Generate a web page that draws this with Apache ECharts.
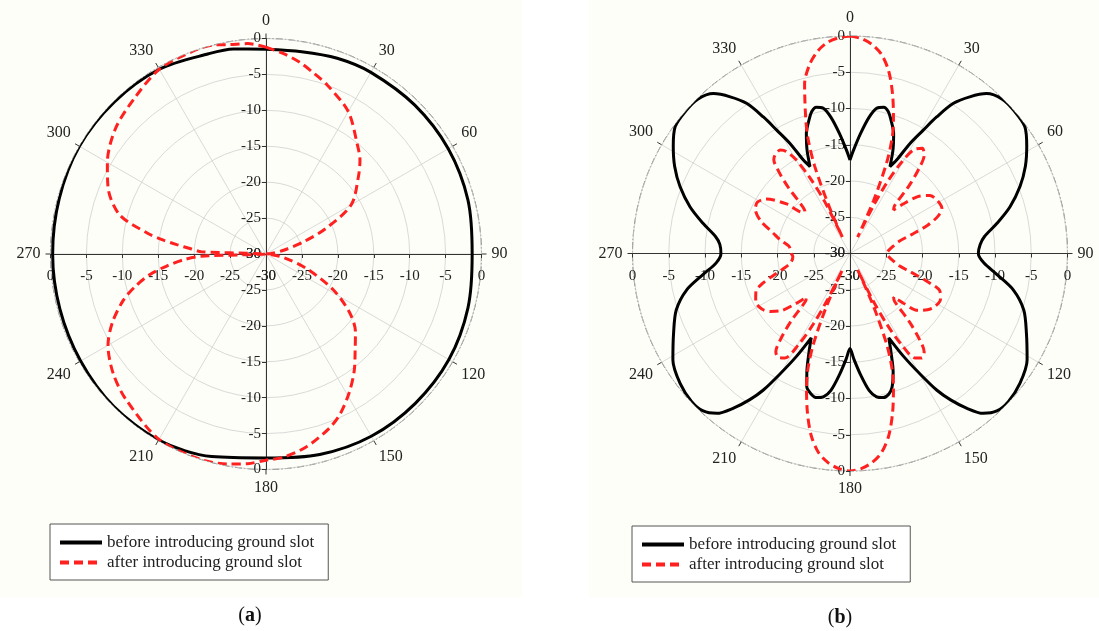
<!DOCTYPE html>
<html><head><meta charset="utf-8">
<script src="https://cdn.jsdelivr.net/npm/echarts@6/dist/echarts.min.js"></script>
<style>html,body{margin:0;padding:0;background:#fff}#c{width:1099px;height:631px}</style>
</head><body><div id="c"></div>
<script>
// ---------- data ----------
const seriesNames = ['before introducing ground slot', 'after introducing ground slot'];
const angleRange = [0, 360];
const angleStep = 30;
const radiusRange = [-30, 0];
const radiusStep = 5;

// (a) before (black)
const aBeforeAngle = [0,10,20,30,45,60,75,90,105,120,135,150,165,180,195,210,225,240,255,270,285,300,315,330,344,351,360];
const aBeforeDb    = [-1.5,-1.4,-1.0,-0.8,-0.7,-0.7,-0.9,-1.3,-0.9,-0.6,-0.6,-0.7,-1.1,-1.6,-0.8,-0.1,0,-0.2,-0.3,-0.3,-0.2,0,-0.1,-0.3,-1.0,-1.1,-1.5];
// (a) after (red)
const aAfterAngle = [0,5,10,15,20,30,40,45,50,60,67,72,78,84,90,96,102,110,118,125,131,137,143,149,155,160,168,175,180,185,190,198,210,224,232,240,246,252,256,260,263,266,268,270,272,274,276,278,280,285,293,300,310,320,330,340,346,350,355,360];
const aAfterDb    = [-1.2,-2.0,-2.9,-4.0,-5.0,-7.1,-10.2,-11.5,-13.2,-16.3,-21.0,-24.5,-27.5,-29.3,-30,-29.3,-27.3,-23.9,-19.4,-15.8,-13.5,-11.8,-9.6,-7.5,-5.5,-4.2,-2.6,-1.6,-1.3,-0.7,-0.3,0,-0.2,-1.9,-3.0,-4.6,-6.6,-9.1,-11.2,-13.6,-16.0,-18.5,-21,-30,-21,-19.5,-17.5,-15.2,-13.2,-8.9,-6.1,-4.5,-2.7,-1.6,-0.3,0,0,-0.4,-0.6,-1.2];

// (b) before (black)
const bBeforeAngle = [0,2,5,8,10.5,13,15,17,20,22.5,24.7,26.5,28.6,30.7,32.4,34.5,37.4,40.5,44.6,49,54,58.8,63.6,68.5,73.7,78.4,82.8,86,90,
  94,98,102.6,108,114.3,121,127.4,133,137,140.2,143,145.5,147.6,150,152.5,155.3,157.5,160,162.5,164.5,167,169.5,172,175,178,180,
  182,185,188,190.5,193,195.5,198,200,202.5,204.7,207.5,210,212.4,214.5,217,219.8,223,227,232.6,239,245.7,252,257.4,262,266,270,
  274,277.2,281.6,286.3,291.5,296.4,301.2,306,311,315.4,319.5,322.6,325.5,327.6,329.3,331.4,333.5,335.3,337.5,340,343,345,347,349.5,352,355,358,360];
const bBeforeDb = [-17.1,-15.7,-13.4,-11.0,-9.6,-9.3,-9.7,-10.7,-12.4,-14.5,-16.8,-15.6,-12.7,-10.2,-7.7,-4.9,-2.8,-1.0,-0.1,0,-0.2,-1.5,-3.0,-4.8,-7.0,-9.3,-11.3,-12.0,-12.3,
  -11.5,-9.6,-6.9,-4.8,-3.3,-1.5,-0.5,-0.1,-0.3,-1.3,-3.3,-5.5,-7.7,-11.0,-14,-17.2,-15.2,-12.6,-10.7,-9.9,-9.6,-9.9,-10.9,-13.2,-15.5,-16.9,
  -15.5,-13.2,-10.9,-9.9,-9.6,-9.9,-10.7,-12.6,-15.2,-17.2,-14,-11.0,-7.7,-5.5,-3.3,-1.3,-0.3,-0.1,-0.5,-1.5,-3.3,-4.8,-6.9,-9.6,-11.5,-12.2,
  -12.0,-11.3,-9.3,-7.0,-4.8,-3.0,-1.5,-0.2,0,-0.1,-1.0,-2.8,-4.9,-7.7,-10.2,-12.7,-15.6,-16.8,-14.5,-12.4,-10.7,-9.7,-9.3,-9.6,-11.0,-13.4,-15.7,-17.1];
// (b) after (red)
const bAfterAngle = [0,3,6,9,12,15,18,20,22,24,25,26,27.5,29.5,32,34.5,37,39,41,43,45,47,50,54,59,64,67,70,73,76,80,85,90,
  95,100,104,107,110,113,117,122,126,130,133,135,137,139,141,143,145.5,148,150.5,152.5,154,155,156,158,160,162,165,168,171,174,177,180,
  183,186,189,192,195,198,200,202,204,205,206,207.5,209.5,212,214.5,217,219,221,223,225,227,230,234,238,243,248,251,254,257,260,264,267,270,
  273,277,281,285,290,295,299,303,308,311,313,315,317,319,321,323,326,328,330,332,334,335,336,338,340,342,345,348,351,354,357,360];
const bAfterDb = [0,-0.3,-1.0,-2.2,-4.3,-7.3,-10.6,-13,-16.5,-22,-27.5,-23,-19,-15.5,-13,-12.4,-13,-14.8,-17.5,-21,-21.5,-20,-17.8,-16.4,-15.9,-15.9,-16.8,-18.6,-21.2,-23,-23.9,-24.6,-24.9,
  -24.6,-23.9,-23,-21.2,-18.6,-16.5,-16.0,-16.2,-16.8,-17.8,-20,-21.5,-21,-17.5,-14.8,-13,-12.5,-13,-15.5,-19,-23,-27.5,-22,-16.5,-13,-10.6,-7.3,-4.3,-2.2,-1.0,-0.3,0,
  -0.3,-1.0,-2.2,-4.3,-7.3,-10.6,-13,-16.5,-22,-27.5,-23,-19,-15.5,-13,-12.6,-13,-14.8,-17.5,-21,-21.5,-20,-17.8,-16.4,-15.6,-15.4,-16.0,-17.2,-19,-20.5,-21.5,-22,-22.1,-21.9,
  -21.8,-21.5,-20.2,-19,-16.9,-15.6,-15.4,-16.2,-18.9,-21.3,-21.5,-20.5,-17.5,-15,-13.3,-12.9,-12.8,-13.4,-15,-18,-22,-27.5,-23,-17,-13,-10.2,-5.8,-3.3,-1.7,-0.7,-0.2,0];

// ---------- build ----------
const FONT = 'Liberation Serif';
const pairs = (ang, db) => ang.map((a, i) => [db[i], a]);

const polar = [], angleAxis = [], radiusAxis = [];
function addAxes(center, radius) {
  const base = polar.length;
  const dirs = [
    {start: 90,  label: {margin: 5,   align: 'right',  verticalAlign: 'middle'}, tick: 4},
    {start: 0,   label: {margin: -15, align: 'center', verticalAlign: 'top'},    tick: -4},
    {start: 270, label: {margin: -5,  align: 'right',  verticalAlign: 'middle'}, tick: -4},
    {start: 180, label: {margin: 15,  align: 'center', verticalAlign: 'top'},    tick: 4}
  ];
  dirs.forEach((d, k) => {
    const main = k === 0;
    polar.push({center: center, radius: radius});
    angleAxis.push({
      polarIndex: base + k, type: 'value', min: angleRange[0], max: angleRange[1], interval: angleStep,
      startAngle: d.start, clockwise: true, z: 1,
      axisLine: {show: main, lineStyle: {color: '#555', width: 0.9, type: [7, 2, 1.5, 2]}},
      axisTick: {show: main, length: 5, lineStyle: {color: '#333', width: 1}},
      axisLabel: {show: main, margin: 10, fontFamily: FONT, fontSize: 16, color: '#222',
        formatter: v => (v === 360 ? '' : String(v))},
      splitLine: {show: main, lineStyle: {color: '#cfcfcf', width: 0.8}}
    });
    radiusAxis.push({
      polarIndex: base + k, type: 'value', min: radiusRange[0], max: radiusRange[1], interval: radiusStep, z: 3,
      axisLine: {show: true, lineStyle: {color: '#333', width: 1}},
      axisTick: {show: true, length: d.tick, lineStyle: {color: '#333', width: 1}},
      axisLabel: Object.assign({show: true, fontFamily: FONT, fontSize: 15, color: '#222'}, d.label),
      splitLine: {show: main, showMaxLine: false, lineStyle: {color: '#cfcfcf', width: 0.8}}
    });
  });
  return base;
}
const pa = addAxes([266, 254], 215.5);
const pb = addAxes([850, 253.5], 217.5);

const blackStyle = {color: '#000', width: 3, type: 'solid'};
const redStyle = {color: '#ff2020', width: 3, type: [9, 5]};
function line(name, polarIndex, data, style, z) {
  return {name, type: 'line', coordinateSystem: 'polar', polarIndex, data, showSymbol: false, symbol: 'none',
    smooth: 0.3, lineStyle: style, itemStyle: {color: style.color}, z, animation: false};
}

const legendBase = {
  data: seriesNames, orient: 'vertical', padding: [10, 14, 9, 8], itemWidth: 42, itemHeight: 14, itemGap: 3,
  borderColor: '#555', borderWidth: 1, backgroundColor: '#fff',
  itemStyle: {opacity: 0},
  lineStyle: {width: 4},
  textStyle: {fontFamily: FONT, fontSize: 17, color: '#222'}
};

const option = {
  backgroundColor: '#ffffff',
  animation: false,
  polar, angleAxis, radiusAxis,
  legend: [
    Object.assign({left: 50, top: 524}, legendBase),
    Object.assign({left: 632, top: 526}, legendBase)
  ],
  graphic: [
    {type: 'rect', silent: true, z: -10, shape: {x: 0, y: 0, width: 522, height: 597}, style: {fill: '#fefef8'}},
    {type: 'rect', silent: true, z: -10, shape: {x: 589, y: 0, width: 510, height: 597}, style: {fill: '#fefef8'}},
    {type: 'text', x: 250, y: 616, style: {text: '{p|(}{b|a}{p|)}', align: 'center', verticalAlign: 'middle',
      rich: {p: {fontFamily: FONT, fontSize: 20, fill: '#111'}, b: {fontFamily: FONT, fontSize: 20, fontWeight: 'bold', fill: '#111'}}}},
    {type: 'text', x: 840, y: 618, style: {text: '{p|(}{b|b}{p|)}', align: 'center', verticalAlign: 'middle',
      rich: {p: {fontFamily: FONT, fontSize: 20, fill: '#111'}, b: {fontFamily: FONT, fontSize: 20, fontWeight: 'bold', fill: '#111'}}}}
  ],
  series: [
    line(seriesNames[0], pa, pairs(aBeforeAngle, aBeforeDb), blackStyle, 5),
    line(seriesNames[1], pa, pairs(aAfterAngle, aAfterDb), redStyle, 6),
    line(seriesNames[0], pb, pairs(bBeforeAngle, bBeforeDb), blackStyle, 5),
    line(seriesNames[1], pb, pairs(bAfterAngle, bAfterDb), redStyle, 6)
  ]
};
const chart = echarts.init(document.getElementById('c'));
chart.setOption(option);
</script>
</body></html>
